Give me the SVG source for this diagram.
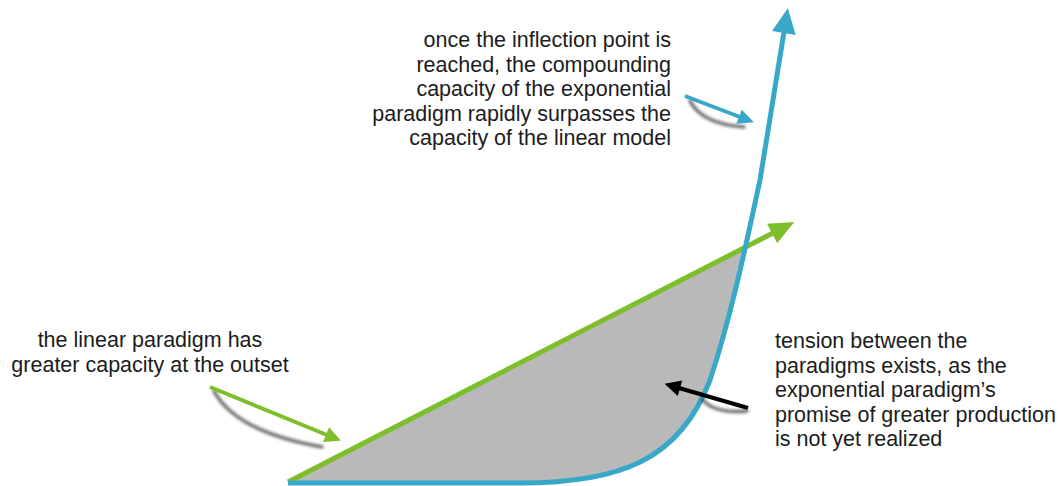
<svg xmlns="http://www.w3.org/2000/svg" width="1060" height="486" viewBox="0 0 1060 486">
  <style>
    .lbl { font-family: "Liberation Sans", Arial, sans-serif; font-size: 21.5px; fill: #1c1c1c; }
    .main { fill: none; stroke-width: 5; }
    .ptr { fill: none; stroke-width: 4; }
    .shadow { fill: none; stroke: #3a3a3a; stroke-width: 3.5; stroke-linecap: round; opacity: 0.75; filter: url(#blur); }
  </style>
  <defs>
    <filter id="blur" x="-20%" y="-50%" width="140%" height="200%">
      <feGaussianBlur stdDeviation="1.8"/>
    </filter>
    <marker id="headBlue" markerUnits="userSpaceOnUse" orient="auto" refX="1" refY="0" markerWidth="30" markerHeight="30" overflow="visible">
      <path d="M0,-12 L25,0 L0,12 Z" fill="#38a8c9"/>
    </marker>
    <marker id="headGreen" markerUnits="userSpaceOnUse" orient="auto" refX="1" refY="0" markerWidth="30" markerHeight="30" overflow="visible">
      <path d="M0,-11 L25,0 L0,11 Z" fill="#7dbf2a"/>
    </marker>
    <marker id="ptrBlue" markerUnits="userSpaceOnUse" orient="auto" refX="1" refY="0" markerWidth="20" markerHeight="20" overflow="visible">
      <path d="M0,-7.5 L16,0 L0,7.5 Z" fill="#38a8c9"/>
    </marker>
    <marker id="ptrGreen" markerUnits="userSpaceOnUse" orient="auto" refX="1" refY="0" markerWidth="20" markerHeight="20" overflow="visible">
      <path d="M0,-8 L16,0 L0,8 Z" fill="#7dbf2a"/>
    </marker>
    <marker id="ptrBlack" markerUnits="userSpaceOnUse" orient="auto" refX="1" refY="0" markerWidth="20" markerHeight="20" overflow="visible">
      <path d="M0,-8 L16,0 L0,8 Z" fill="#000000"/>
    </marker>
    <clipPath id="leftOfCurve">
      <path d="M288,482 H520 C620,482 680,460 710,380 C730,320 745,250 760,180 L788,7 L0,0 L0,482 Z"/>
    </clipPath>
  </defs>

  <g id="tension-area">
    <polygon points="288,482 800,219 800,482" fill="#b9b9b9" clip-path="url(#leftOfCurve)"/>
  </g>

  <g id="connectors">
    <path id="linear" class="main" stroke="#7dbf2a" d="M288,482 L773,233" marker-end="url(#headGreen)"/>
    <path id="exponential" class="main" stroke="#38a8c9" d="M288,483 H520 C620,483 680,460 710,380 C730,320 745,250 760,180 L784,32" marker-end="url(#headBlue)"/>

    <path class="shadow" d="M690,101 Q702,124 744,127"/>
    <path class="ptr" stroke="#38a8c9" d="M685,96 L740,117" marker-end="url(#ptrBlue)"/>

    <path class="shadow" d="M214,391 Q236,432 322,447"/>
    <path class="ptr" stroke="#7dbf2a" d="M210,387 L327,435" marker-end="url(#ptrGreen)"/>

    <path class="shadow" d="M747,411 Q714,414 702,399"/>
    <path class="ptr" stroke="#000000" d="M748,408 L679,388" marker-end="url(#ptrBlack)"/>
  </g>

  <g id="label-exponential">
    <text class="lbl" text-anchor="end" x="671" y="47">once the inflection point is</text>
    <text class="lbl" text-anchor="end" x="671" y="71.5">reached, the compounding</text>
    <text class="lbl" text-anchor="end" x="671" y="96">capacity of the exponential</text>
    <text class="lbl" text-anchor="end" x="671" y="120.5">paradigm rapidly surpasses the</text>
    <text class="lbl" text-anchor="end" x="671" y="145">capacity of the linear model</text>
  </g>

  <g id="label-linear">
    <text class="lbl" text-anchor="middle" x="150" y="347">the linear paradigm has</text>
    <text class="lbl" text-anchor="middle" x="150" y="371.5">greater capacity at the outset</text>
  </g>

  <g id="label-tension">
    <text class="lbl" x="775" y="348">tension between the</text>
    <text class="lbl" x="775" y="372.5">paradigms exists, as the</text>
    <text class="lbl" x="775" y="397">exponential paradigm’s</text>
    <text class="lbl" x="775" y="421.5">promise of greater production</text>
    <text class="lbl" x="775" y="446">is not yet realized</text>
  </g>
</svg>
